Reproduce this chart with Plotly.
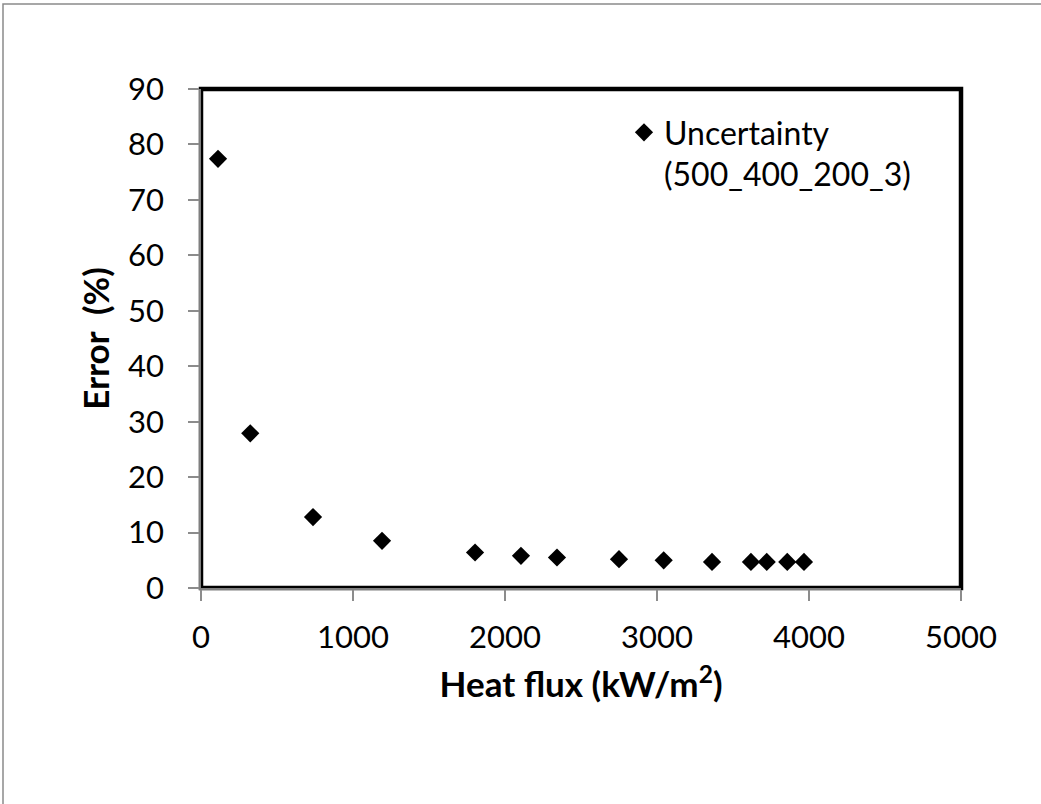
import plotly.graph_objects as go

# Heat flux (kW/m^2) and corresponding measurement error (%)
heat_flux = [112, 324, 737, 1191, 1803, 2105, 2342, 2750, 3044, 3362, 3618, 3722, 3857, 3967]
error_pct = [77.4, 27.9, 12.8, 8.5, 6.4, 5.8, 5.5, 5.2, 5.0, 4.7, 4.7, 4.7, 4.7, 4.7]

series_name = "Uncertainty<br>(500_400_200_3)"
x_ticks = [0, 1000, 2000, 3000, 4000, 5000]
y_ticks = [0, 10, 20, 30, 40, 50, 60, 70, 80, 90]

FONT = "Lato, 'Open Sans', sans-serif"
W, H = 1041, 804
L, R, T, B = 201, 80, 89, 216
pw, ph = W - L - R, H - T - B

fig = go.Figure()
fig.add_trace(go.Scatter(
    x=heat_flux, y=error_pct, mode="markers", name=series_name,
    marker=dict(symbol="diamond", size=14, color="black"),
))

axis_common = dict(
    showgrid=False, zeroline=False, showline=True, linecolor="#7f7f7f", linewidth=1.5,
    ticks="outside", ticklen=11, tickwidth=1.5, tickcolor="#8c8c8c",
    tickfont=dict(family=FONT, size=31, color="black"),
)

fig.update_xaxes(
    range=[0, 5000], tickvals=x_ticks, ticktext=[str(v) for v in x_ticks],
    title=dict(text="<b>Heat flux (kW/m<sup>2</sup>)</b>", font=dict(family=FONT, size=35, color="black"), standoff=19),
    ticklabelstandoff=10,
    **axis_common,
)
fig.update_yaxes(
    range=[0, 90], tickvals=y_ticks, ticktext=[str(v) for v in y_ticks],
    title=dict(text="<b>Error  (%)</b>", font=dict(family=FONT, size=35, color="black"), standoff=8),
    ticklabelstandoff=18,
    **axis_common,
)

# Plot-area frame (heavy black border)
fig.add_shape(type="rect", xref="paper", yref="paper", x0=0, y0=0, x1=1, y1=1,
              line=dict(color="black", width=4.5), layer="below")
# Outer chart frame
fig.add_shape(type="rect", xref="paper", yref="paper",
              x0=(3 - L) / pw, x1=(1050 - L) / pw,
              y0=-(820 - (H - B)) / ph, y1=((H - B) - 4) / ph,
              line=dict(color="#8a8a8a", width=1.5), layer="below")

fig.update_layout(
    width=W, height=H,
    margin=dict(l=L, r=R, t=T, b=B),
    paper_bgcolor="white", plot_bgcolor="white",
    font=dict(family=FONT, color="black"),
    showlegend=True,
    legend=dict(
        x=(624 - L) / pw, y=(H - B - 105) / ph, xanchor="left", yanchor="top",
        bgcolor="rgba(0,0,0,0)", font=dict(family=FONT, size=32, color="black"),
        valign="top", itemwidth=30, tracegroupgap=0,
    ),
)

fig.write_html("out.html")
